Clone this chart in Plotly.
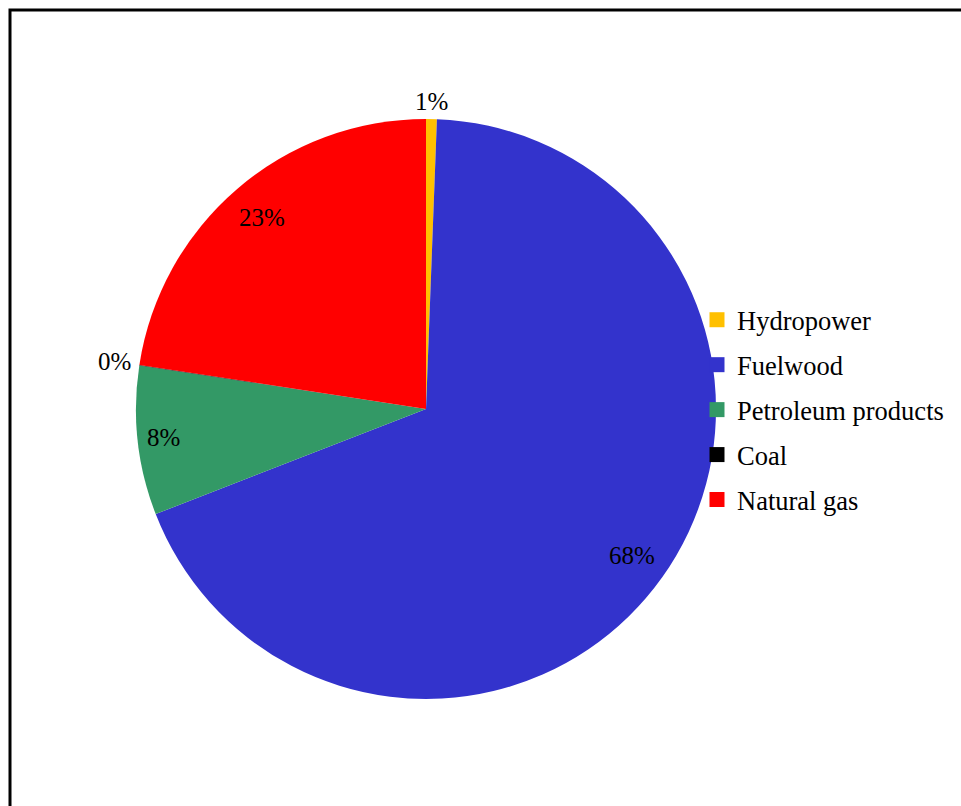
import math
import plotly.graph_objects as go

labels = ["Hydropower", "Fuelwood", "Petroleum products", "Coal", "Natural gas"]
values = [0.6, 68.5, 8.3, 0.03, 22.57]
text_labels = ["1%", "68%", "8%", "0%", "23%"]
colors = ["#FFC000", "#3333CC", "#339966", "#000000", "#FF0000"]
label_radius = [1.062, 0.87, 0.91, 1.085, 0.87]  # fraction of pie radius

W, H = 961, 806
FONT = "Liberation Serif, Times New Roman, serif"
CX, CY, R = 426, 409, 290  # pie centre / radius in pixels

fig = go.Figure()
fig.add_trace(go.Pie(
    labels=labels, values=values,
    textinfo="none",
    sort=False, direction="clockwise", rotation=0,
    marker=dict(colors=colors, line=dict(width=0)),
    domain=dict(x=[(CX - R) / W, (CX + R) / W], y=[1 - (CY + R) / H, 1 - (CY - R) / H]),
    showlegend=False, automargin=False, hoverinfo="label+percent",
))

# data labels placed on each slice's bisector
total = sum(values)
cum = 0.0
annotations = []
for v, t, rf in zip(values, text_labels, label_radius):
    mid = (cum + v / 2) / total * 2 * math.pi
    cum += v
    px = CX + rf * R * math.sin(mid)
    py = CY - rf * R * math.cos(mid)
    annotations.append(dict(
        x=px / W, y=1 - py / H, xref="paper", yref="paper",
        text=t, showarrow=False, xanchor="center", yanchor="middle",
        font=dict(family=FONT, size=25, color="black"),
    ))

for lab, col in zip(labels, colors):
    fig.add_trace(go.Scatter(
        x=[None], y=[None], mode="markers", name=lab, legendgroup=lab,
        marker=dict(symbol="square", size=15, color=col),
    ))

fig.update_layout(
    width=W, height=H,
    margin=dict(l=0, r=0, t=0, b=0),
    paper_bgcolor="white", plot_bgcolor="white",
    xaxis=dict(visible=False), yaxis=dict(visible=False),
    legend=dict(
        x=697 / W, y=1 - 296 / H, xanchor="left", yanchor="top",
        font=dict(family=FONT, size=26.5, color="black"),
        traceorder="grouped", tracegroupgap=7.5,
        bgcolor="rgba(0,0,0,0)",
    ),
    annotations=annotations,
    shapes=[dict(type="rect", xref="paper", yref="paper",
                 x0=10 / W, x1=1.2, y0=-0.2, y1=1 - 10 / H,
                 line=dict(color="black", width=3))],
)

fig.write_html("out.html")
